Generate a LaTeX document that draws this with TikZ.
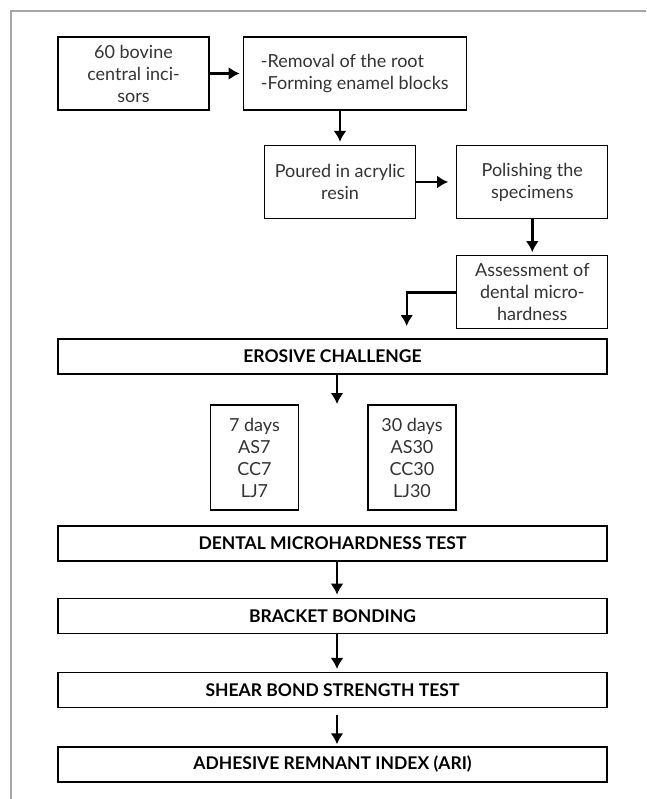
\documentclass[tikz,border=0pt]{standalone}
\usepackage{fontspec}
\setmainfont{Lato}
\usetikzlibrary{positioning,arrows.meta}

\begin{document}
\begin{tikzpicture}[x=1pt,y=-1pt,node distance=33pt,
      procbox/.style={rectangle, draw=black, line width=1.3pt, minimum width=151pt, minimum height=73pt,
        align=center, text=black!80, font=\fontsize{18}{22}\selectfont},
      daybox/.style={procbox, minimum width=88pt, minimum height=105pt},
      stage/.style={rectangle, draw=black, line width=1.3pt, minimum width=549pt, minimum height=35pt,
        font=\fontsize{17.5}{20}\selectfont\bfseries},
      arr/.style={line width=2.4pt,-{Latex[length=11pt,width=13pt]},shorten >=3pt}
      ]
      \useasboundingbox (0,0) rectangle (646,799);
      \draw[black!35, line width=1.3pt] (646,11) -- (11,11) -- (11,799);
      % preparation of the specimens
      \node (inc) [procbox] at (133.5,73.5) {60 bovine\\central inci-\\sors};
      \node (root) [procbox, right=of inc, minimum width=223pt, align=left] {-Removal of the root\\-Forming enamel blocks};
      \draw[arr] (inc) -- (root);
      \node (resin) [procbox] at (340,182) {Poured in acrylic\\resin};
      \draw[arr] (root.south -| resin) -- (resin);
      \node (polish) [procbox, right=40pt of resin] {Polishing the\\specimens};
      \draw[arr,shorten >=8pt] (resin) -- (polish);
      \node (hard) [procbox, below=36pt of polish] {Assessment of\\dental micro-\\hardness};
      \draw[arr] (polish) -- (hard);
      % erosion and tests
      \node (ero) [stage] at (332.5,356.5) {EROSIVE CHALLENGE};
      \coordinate (c1) at (406.7,326);
      \draw[arr,shorten >=0pt] (hard) -| (c1);
      \node (d7) [daybox] at (254.4,457.5) {7 days\\AS7\\CC7\\LJ7};
      \node (d30) [daybox] at (412,457.5) {30 days\\AS30\\CC30\\LJ30};
      \coordinate (c2) at (337,404);
      \draw[arr,shorten >=0pt] (ero.south -| c2) -- (c2);
      \node (micro) [stage] at (332.5,543.5) {DENTAL MICROHARDNESS TEST};
      \node (bond) [stage, below=36pt of micro] {BRACKET BONDING};
      \draw[arr] ([xshift=4.5pt]micro.south) -- ([xshift=4.5pt]bond.north);
      \node (shear) [stage, below=38pt of bond] {SHEAR BOND STRENGTH TEST};
      \draw[arr] ([xshift=4.5pt]bond.south) -- ([xshift=4.5pt]shear.north);
      \node (ari) [stage, below=38pt of shear] {ADHESIVE REMNANT INDEX (ARI)};
      \draw[arr,shorten <=7pt,shorten >=2pt] ([xshift=4.5pt]shear.south) -- ([xshift=4.5pt]ari.north);
\end{tikzpicture}
\end{document}
